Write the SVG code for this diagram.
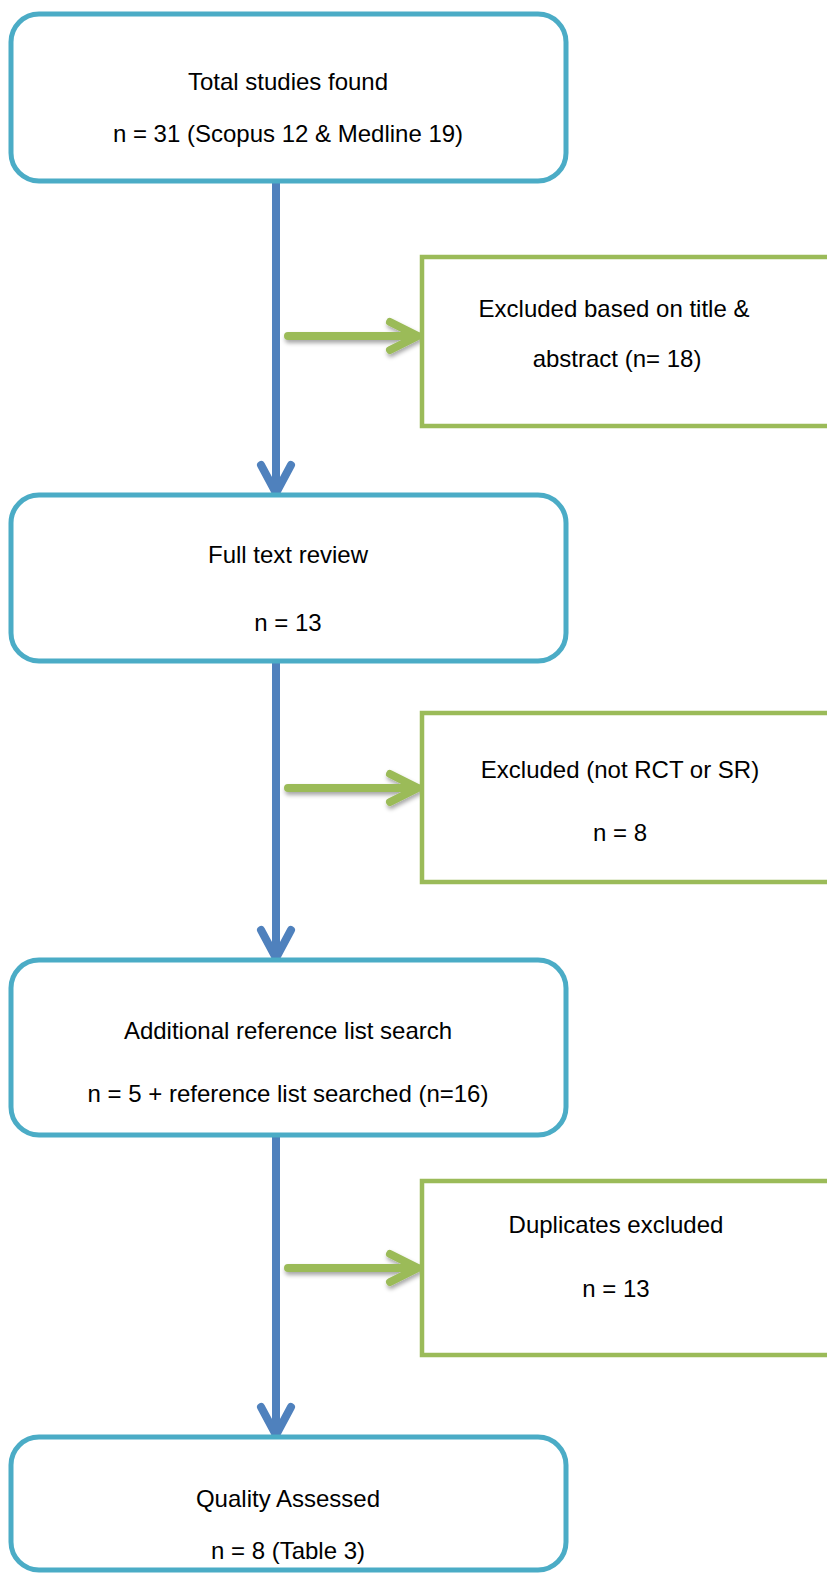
<svg xmlns="http://www.w3.org/2000/svg" width="827" height="1573" viewBox="0 0 827 1573">
<style>
.stage{fill:#fff;stroke:#4BACC6;stroke-width:5}
.excl{fill:#fff;stroke:#9BBB59;stroke-width:4.5}
.t{font-family:"Liberation Sans",Arial,sans-serif;font-size:24px;fill:#000;text-anchor:middle}
.down{fill:none;stroke:#4F81BD;stroke-width:8;stroke-linecap:round;stroke-linejoin:round}
.side{fill:none;stroke:#9BBB59;stroke-width:8;stroke-linecap:round;stroke-linejoin:round}
</style>
<defs>
<filter id="sh" x="-10%" y="-50%" width="120%" height="200%">
<feDropShadow dx="1" dy="3" stdDeviation="2" flood-color="#000" flood-opacity="0.35"/>
</filter>
</defs>
<rect width="827" height="1573" fill="#fff"/>
<g id="connectors">
<path class="down" d="M276 181V493M261 465L276 493L291 465"/>
<path class="down" d="M276 661V958M261 930L276 958L291 930"/>
<path class="down" d="M276 1135V1435M261 1407L276 1435L291 1407"/>
<g filter="url(#sh)">
<path class="side" d="M288 336H418M390 322L418 336L390 350"/>
<path class="side" d="M288 788H418M390 774L418 788L390 802"/>
<path class="side" d="M288 1268H418M390 1254L418 1268L390 1282"/>
</g>
</g>
<g id="n1">
<rect class="stage" x="11" y="14" width="555" height="167" rx="28"/>
<text class="t" x="288" y="90">Total studies found</text>
<text class="t" x="288" y="142">n = 31 (Scopus 12 &amp; Medline 19)</text>
</g>
<g id="e1">
<rect class="excl" x="422" y="257" width="420" height="169"/>
<text class="t" x="614" y="317">Excluded based on title &amp;</text>
<text class="t" x="617" y="367">abstract (n= 18)</text>
</g>
<g id="n2">
<rect class="stage" x="11" y="495" width="555" height="166" rx="28"/>
<text class="t" x="288" y="563">Full text review</text>
<text class="t" x="288" y="631">n = 13</text>
</g>
<g id="e2">
<rect class="excl" x="422" y="713" width="420" height="169"/>
<text class="t" x="620" y="778">Excluded (not RCT or SR)</text>
<text class="t" x="620" y="841">n = 8</text>
</g>
<g id="n3">
<rect class="stage" x="11" y="960" width="555" height="175" rx="28"/>
<text class="t" x="288" y="1039">Additional reference list search</text>
<text class="t" x="288" y="1102">n = 5 + reference list searched (n=16)</text>
</g>
<g id="e3">
<rect class="excl" x="422" y="1181" width="420" height="174"/>
<text class="t" x="616" y="1233">Duplicates excluded</text>
<text class="t" x="616" y="1297">n = 13</text>
</g>
<g id="n4">
<rect class="stage" x="11" y="1437" width="555" height="133" rx="28"/>
<text class="t" x="288" y="1507">Quality Assessed</text>
<text class="t" x="288" y="1559">n = 8 (Table 3)</text>
</g>
</svg>
